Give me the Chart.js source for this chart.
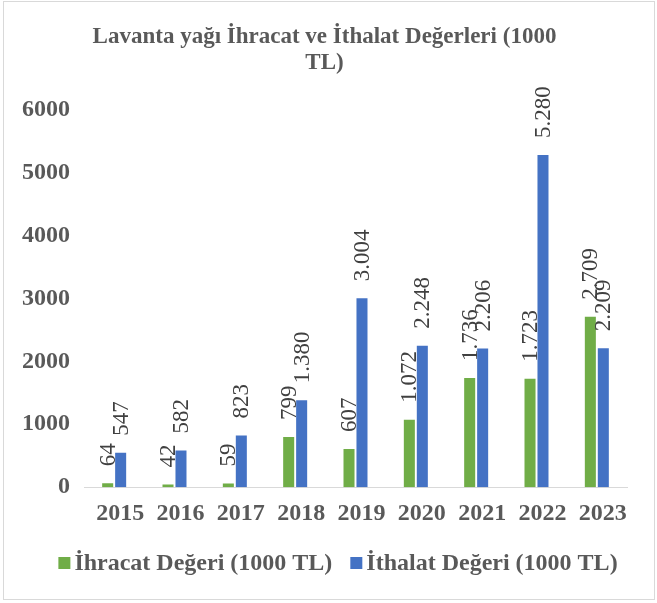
<!DOCTYPE html>
<html>
<head>
<meta charset="utf-8">
<script src="https://cdn.jsdelivr.net/npm/chart.js@4.4.0/dist/chart.umd.min.js"></script>
<style>
  html, body { margin: 0; padding: 0; background: #fff; }
  #box { position: absolute; left: 3px; top: 1px; width: 650px; height: 597px; border: 1px solid #d9d9d9; }
  canvas { display: block; }
</style>
</head>
<body>
<div id="box"><canvas id="chart" width="650" height="597"></canvas></div>
<script>
// ===== DATA =====
const years = ['2015', '2016', '2017', '2018', '2019', '2020', '2021', '2022', '2023'];
const ihracat = [64, 42, 59, 799, 607, 1072, 1736, 1723, 2709];
const ithalat = [547, 582, 823, 1380, 3004, 2248, 2206, 5280, 2209];
const yTicks = [0, 1000, 2000, 3000, 4000, 5000, 6000];

const SERIF = "'Liberation Serif', 'Times New Roman', serif";
const GREY = '#595959';

// thousands with dots, like the Turkish source
const fmt = v => String(v).replace(/\B(?=(\d{3})+(?!\d))/g, '.');

// ===== ROTATED VALUE LABELS =====
const barLabels = {
  id: 'barLabels',
  afterDatasetsDraw(chart) {
    const ctx = chart.ctx;
    ctx.save();
    ctx.font = "23px " + SERIF;
    ctx.fillStyle = '#404040';
    ctx.textAlign = 'left';
    ctx.textBaseline = 'middle';
    chart.data.datasets.forEach((ds, i) => {
      chart.getDatasetMeta(i).data.forEach((bar, j) => {
        ctx.save();
        ctx.translate(bar.x + 1, bar.y - 17);
        ctx.rotate(-Math.PI / 2);
        ctx.fillText(fmt(ds.data[j]), 0, 0);
        ctx.restore();
      });
    });
    ctx.restore();
  }
};

// ===== LEGEND (drawn by hand, tight square-to-text gap) =====
const bottomLegend = {
  id: 'bottomLegend',
  afterDraw(chart) {
    const ctx = chart.ctx;
    const box = 12, gap = 4, between = 18;
    ctx.save();
    ctx.font = "bold 24px " + SERIF;
    ctx.textBaseline = 'middle';
    ctx.textAlign = 'left';
    const items = chart.data.datasets.map(ds => ({
      text: ds.label, color: ds.backgroundColor, w: box + gap + ctx.measureText(ds.label).width
    }));
    const total = items.reduce((s, it) => s + it.w, 0) + between * (items.length - 1);
    let x = chart.width / 2 + 9 - total / 2;
    const y = 561;
    items.forEach(it => {
      ctx.fillStyle = it.color;
      ctx.fillRect(x, y - box / 2, box, box);
      ctx.fillStyle = GREY;
      ctx.fillText(it.text, x + box + gap, y + 1);
      x += it.w + between;
    });
    ctx.restore();
  }
};

new Chart(document.getElementById('chart'), {
  type: 'bar',
  data: {
    labels: years,
    datasets: [
      { label: 'İhracat Değeri (1000 TL)', data: ihracat, backgroundColor: '#70ad47',
        categoryPercentage: 0.43, barPercentage: 0.85 },
      { label: 'İthalat Değeri (1000 TL)', data: ithalat, backgroundColor: '#4472c4',
        categoryPercentage: 0.43, barPercentage: 0.85 }
    ]
  },
  options: {
    responsive: false,
    animation: false,
    layout: { padding: { left: 18, right: 27, top: 0, bottom: 59 } },
    plugins: {
      title: {
        display: true,
        text: ['Lavanta yağı İhracat ve İthalat Değerleri (1000', 'TL)'],
        color: GREY,
        font: { family: SERIF, size: 23, weight: 'bold', lineHeight: 1.09 },
        padding: { top: 23, bottom: 34.5 }
      },
      legend: { display: false },
      tooltip: { enabled: false }
    },
    scales: {
      x: {
        grid: { display: false, drawTicks: false },
        border: { color: '#d9d9d9' },
        ticks: { color: GREY, font: { family: SERIF, size: 24, weight: 'bold' }, padding: 12, labelOffset: 6 }
      },
      y: {
        min: 0,
        max: 6000,
        afterBuildTicks: axis => { axis.ticks = yTicks.map(v => ({ value: v })); },
        afterFit: axis => { axis.width = 62; },
        grid: { display: false, drawTicks: false },
        border: { display: false },
        ticks: { color: GREY, font: { family: SERIF, size: 24, weight: 'bold' }, padding: 14,
                 callback: v => String(v) }
      }
    }
  },
  plugins: [barLabels, bottomLegend]
});
</script>
</body>
</html>
